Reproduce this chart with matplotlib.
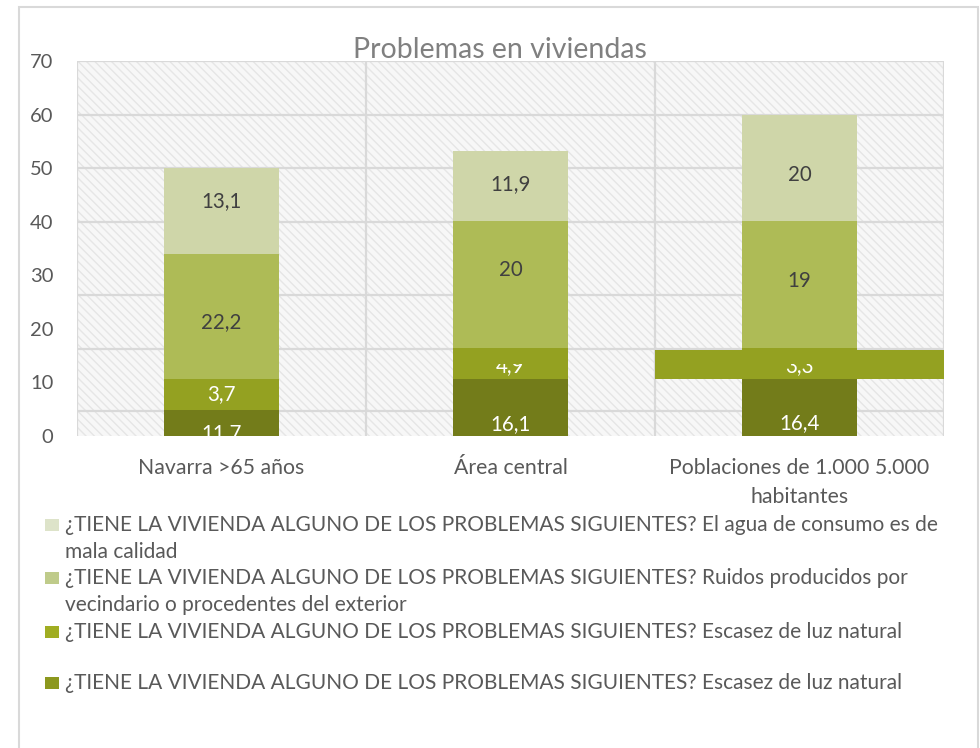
import matplotlib
matplotlib.use("Agg")
import matplotlib.pyplot as plt
from matplotlib.patches import Rectangle
from matplotlib.transforms import Bbox, TransformedBbox
import numpy as np

# ---------------- data ----------------
categories = ["Navarra >65 años", "Área central", "Poblaciones de 1.000 5.000\nhabitantes"]

series_names = [
    "¿TIENE LA VIVIENDA ALGUNO DE LOS PROBLEMAS SIGUIENTES? El agua de consumo es de\nmala calidad",
    "¿TIENE LA VIVIENDA ALGUNO DE LOS PROBLEMAS SIGUIENTES? Ruidos producidos por\nvecindario o procedentes del exterior",
    "¿TIENE LA VIVIENDA ALGUNO DE LOS PROBLEMAS SIGUIENTES? Escasez de luz natural",
    "¿TIENE LA VIVIENDA ALGUNO DE LOS PROBLEMAS SIGUIENTES? Escasez de luz natural",
]

# labelled values (as printed on the chart)
agua_vals = [13.1, 11.9, 20]
ruidos_vals = [22.2, 20, 19]
luz_vals = [3.7, 4.9, 3.3]
luz2_vals = [11.7, 16.1, 16.4]

# segment heights as drawn in the picture (stack order bottom -> top)
luz2_drawn = [4.87, 10.67, 10.67]
luz_drawn = [5.80, 5.83, 5.83]
ruidos_drawn = [23.39, 23.70, 23.70]
agua_drawn = [15.94, 13.00, 19.80]

# extra full-width segment shown in the third category
extra_cat = 2
extra_bottom = 10.67
extra_height = 5.43

# label vertical positions (value units) as seen
luz2_label_y = [0.6, 2.25, 2.4]
luz_label_y = [7.8, 13.1, 13.1]
ruidos_label_y = [21.3, 30.9, 29.0]
agua_label_y = [43.8, 47.0, 48.7]
# labels of the luz series are cut off above this value in categories 1 and 2
luz_label_clip = [None, 13.5, 13.5]

yticks = [0, 10, 20, 30, 40, 50, 60, 70]
grid_y = [4.7, 16.3, 26.4, 40, 50, 60, 70]

# ---------------- style ----------------
FONT = ["Lato", "DejaVu Sans"]
plt.rcParams["font.family"] = FONT
plt.rcParams["hatch.linewidth"] = 1.0
plt.rcParams["hatch.color"] = "#e6e6e6"

c_agua = "#cfd6a9"
c_ruidos = "#aebb56"
c_luz = "#94a121"
c_luz2 = "#737c1a"
leg_colors = ["#dde3c9", "#bfcb8a", "#a0ad22", "#8c981e"]
txt_gray = "#595959"

W, H = 980, 748
fig = plt.figure(figsize=(W / 100, H / 100), dpi=100)
fig.patch.set_facecolor("white")

# outer chart border
fig.add_artist(Rectangle((19 / W, 1 - 760 / H), (978 - 19) / W, (760 - 7) / H,
                         transform=fig.transFigure, fill=False,
                         edgecolor="#d9d9d9", lw=1.5))

ax = fig.add_axes([77 / W, 1 - 436 / H, (944 - 77) / W, (436 - 61) / H])
ax.set_xlim(-0.5, 2.5)
ax.set_ylim(0, 70)
ax.set_facecolor("#f7f7f7")
ax.add_patch(Rectangle((0, 0), 1, 1, transform=ax.transAxes, facecolor="#f7f7f7",
                       hatch="\\\\\\\\", edgecolor="#e6e6e6", lw=0, zorder=0))
for s in ax.spines.values():
    s.set_visible(False)

for gy in grid_y:
    ax.axhline(gy, color="#d9d9d9", lw=1.6, zorder=1)
for gx in [-0.5, 0.5, 1.5, 2.5]:
    ax.axvline(gx, color="#d9d9d9", lw=1.6, zorder=1)

x = np.arange(len(categories))
bw = 0.4
b0 = np.zeros(3)
ax.bar(x, luz2_drawn, bw, bottom=b0, color=c_luz2, zorder=2)
b1 = b0 + np.array(luz2_drawn)
ax.bar(x, luz_drawn, bw, bottom=b1, color=c_luz, zorder=2)
b2 = b1 + np.array(luz_drawn)
ax.bar(x, ruidos_drawn, bw, bottom=b2, color=c_ruidos, zorder=2)
b3 = b2 + np.array(ruidos_drawn)
ax.bar(x, agua_drawn, bw, bottom=b3, color=c_agua, zorder=2)
ax.bar([x[extra_cat]], [extra_height], 1.0, bottom=[extra_bottom], color=c_luz, zorder=2.5)


def fmt(v):
    return ("%g" % v).replace(".", ",")


lab_fs = 14.8
for i in range(3):
    ax.text(x[i], agua_label_y[i], fmt(agua_vals[i]), ha="center", va="center",
            color="#404040", fontsize=lab_fs, zorder=3)
    ax.text(x[i], ruidos_label_y[i], fmt(ruidos_vals[i]), ha="center", va="center",
            color="#404040", fontsize=lab_fs, zorder=3)
    t = ax.text(x[i], luz_label_y[i], fmt(luz_vals[i]), ha="center", va="center",
                color="white", fontsize=lab_fs, zorder=3)
    if luz_label_clip[i] is not None:
        t.set_clip_box(TransformedBbox(Bbox([[x[i] - 1, 0], [x[i] + 1, luz_label_clip[i]]]),
                                       ax.transData))
        t.set_clip_on(True)
    t2 = ax.text(x[i], luz2_label_y[i], fmt(luz2_vals[i]), ha="center", va="center",
                 color="white", fontsize=lab_fs, zorder=3)
    t2.set_clip_box(ax.bbox)
    t2.set_clip_on(True)

ax.set_yticks(yticks)
ax.set_yticklabels([str(v) for v in yticks], fontsize=14.5, color=txt_gray)
ax.set_xticks(x)
ax.set_xticklabels(categories, fontsize=15.3, color=txt_gray, linespacing=1.55)
ax.tick_params(axis="y", length=0, pad=17)
ax.tick_params(axis="x", length=0, pad=16)

# title
fig.text(500 / W, 1 - 58 / H, "Problemas en viviendas", ha="center", va="baseline",
         fontsize=20.5, color="#808080")

# legend (drawn manually to reproduce its spacing)
leg_rows = [525, 578, 632, 683]
line_step = 27
leg_fs = 15.0
for name, col, yy in zip(series_names, leg_colors, leg_rows):
    fig.add_artist(Rectangle((45 / W, 1 - (yy + 6) / H), 14 / W, 12 / H,
                             transform=fig.transFigure, facecolor=col, edgecolor="none"))
    for k, line in enumerate(name.split("\n")):
        fig.text(65 / W, 1 - (yy + k * line_step) / H, line, ha="left", va="center",
                 fontsize=leg_fs, color=txt_gray)

fig.savefig("out.png", dpi=100)
